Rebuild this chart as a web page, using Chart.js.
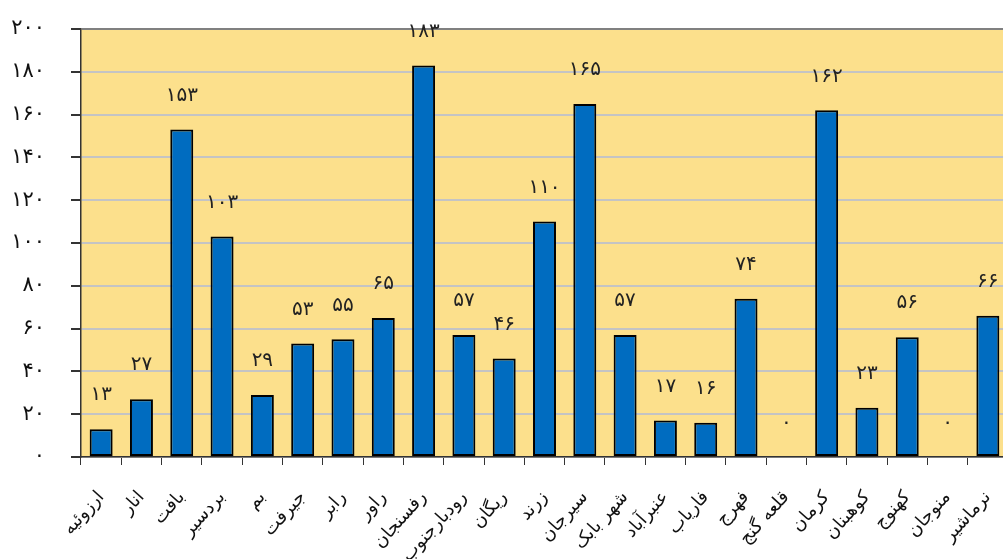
<!DOCTYPE html>
<html>
<head>
<meta charset="utf-8">
<script src="https://cdn.jsdelivr.net/npm/chart.js@4"></script>
<style>
  html, body { margin: 0; padding: 0; overflow: hidden; background: #fff; }
  #wrap { width: 1008px; height: 559px; }
</style>
</head>
<body>
<div id="wrap"><canvas id="chart"></canvas></div>
<script>
const districts = ['ارزوئیه', 'انار', 'بافت', 'بردسیر', 'بم', 'جیرفت', 'رابر', 'راور', 'رفسنجان', 'رودبارجنوب', 'ریگان', 'زرند', 'سیرجان', 'شهر بابک', 'عنبرآباد', 'فاریاب', 'فهرج', 'قلعه گنج', 'کرمان', 'کوهبنان', 'کهنوج', 'منوجان', 'نرماشیر']
const counts = [13, 27, 153, 103, 29, 53, 55, 65, 183, 57, 46, 110, 165, 57, 17, 16, 74, 0, 162, 23, 56, 0, 66]

const faDigits = '۰۱۲۳۴۵۶۷۸۹'
const toFa = (n) => String(n).replace(/\d/g, (d) => faDigits[d])

// yellow plot area
const plotBg = {
  id: 'plotBg',
  beforeDraw(chart) {
    const { ctx, chartArea: a } = chart
    ctx.save()
    ctx.fillStyle = '#FCE08C'
    ctx.fillRect(a.left, a.top, a.right - a.left, a.bottom - a.top)
    ctx.restore()
  },
}

// numbers above the bars
const valueLabels = {
  id: 'valueLabels',
  afterDatasetsDraw(chart) {
    const { ctx } = chart
    const meta = chart.getDatasetMeta(0)
    ctx.save()
    ctx.font = '20px "DejaVu Sans"'
    ctx.fillStyle = '#222'
    ctx.textAlign = 'center'
    ctx.textBaseline = 'middle'
    meta.data.forEach((bar, i) => {
      ctx.fillText(toFa(counts[i]), bar.x, bar.y - 34)
    })
    ctx.restore()
  },
}

new Chart(document.getElementById('chart').getContext('2d'), {
  type: 'bar',
  data: {
    labels: districts,
    datasets: [
      {
        data: counts,
        backgroundColor: '#006CC0',
        borderColor: '#000',
        borderWidth: (c) => (c.raw === 0 ? 0 : 2),
        borderSkipped: false,
        categoryPercentage: 1,
        barPercentage: 0.57,
      },
    ],
  },
  plugins: [plotBg, valueLabels],
  options: {
    responsive: true,
    maintainAspectRatio: false,
    animation: false,
    layout: {
      padding: { top: 29, right: 0, left: 0, bottom: 0 },
    },
    scales: {
      x: {
        offset: true,
        afterFit: (scale) => {
          scale.height = 102
          scale.paddingLeft = 0
          scale.paddingRight = 0
        },
        grid: {
          offset: true,
          drawOnChartArea: false,
          tickLength: 8,
          tickColor: '#333',
        },
        border: { color: '#333', width: 1.5 },
        ticks: {
          minRotation: 48,
          maxRotation: 48,
          autoSkip: false,
          padding: 22,
          color: '#111',
          font: { size: 18, family: 'DejaVu Sans' },
        },
      },
      y: {
        min: 0,
        max: 200,
        afterFit: (scale) => {
          scale.width = 81
          scale.paddingTop = 0
          scale.paddingBottom = 0
        },
        grid: {
          color: (c) => (c.tick && c.tick.value === 200 ? '#808080' : '#C4C4C4'),
          lineWidth: 2,
          tickLength: 10,
          tickColor: '#333',
        },
        border: { color: '#333', width: 1.5 },
        ticks: {
          stepSize: 20,
          padding: 26,
          color: '#111',
          font: { size: 21, family: 'DejaVu Sans' },
          callback: (v) => toFa(v),
        },
      },
    },
    plugins: {
      legend: { display: false },
      tooltip: { enabled: false },
    },
  },
})
</script>
</body>
</html>
